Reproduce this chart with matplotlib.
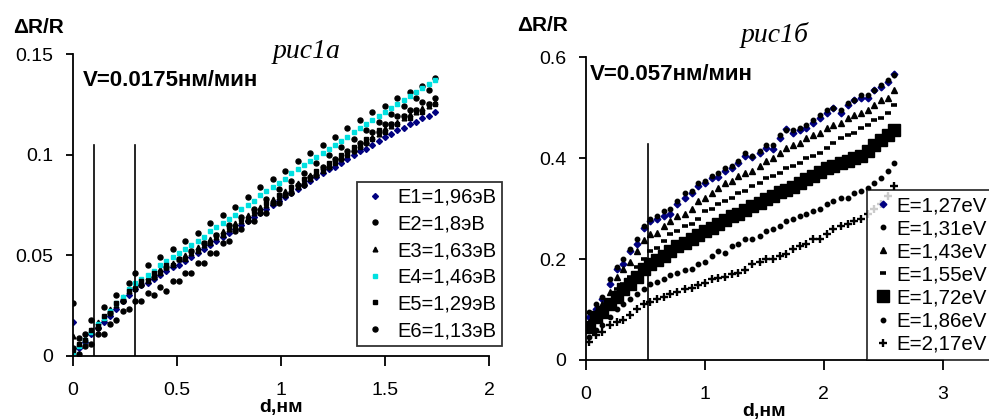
import matplotlib
matplotlib.use("Agg")
import matplotlib.pyplot as plt

plt.rcParams["font.family"] = ["Liberation Sans", "DejaVu Sans"]

# ---- рис1а: V=0.0175 нм/мин ----
d_a = [0.00, 0.03, 0.06, 0.09, 0.12, 0.15, 0.18, 0.21, 0.24, 0.27,
       0.30, 0.33, 0.36, 0.39, 0.42, 0.45, 0.48, 0.51, 0.54, 0.57,
       0.60, 0.63, 0.66, 0.69, 0.72, 0.75, 0.78, 0.81, 0.84, 0.87,
       0.90, 0.93, 0.96, 0.99, 1.02, 1.05, 1.08, 1.11, 1.14, 1.17,
       1.20, 1.23, 1.26, 1.29, 1.32, 1.35, 1.38, 1.41, 1.44, 1.47,
       1.50, 1.53, 1.56, 1.59, 1.62, 1.65, 1.68, 1.71, 1.74]

e1_a = [0.017, 0.004, 0.007, 0.011, 0.014, 0.017, 0.020, 0.023, 0.027, 0.030,
        0.033, 0.035, 0.036, 0.038, 0.040, 0.042, 0.044, 0.045, 0.047, 0.049,
        0.051, 0.053, 0.055, 0.057, 0.059, 0.061, 0.063, 0.065, 0.067, 0.069,
        0.071, 0.073, 0.075, 0.077, 0.079, 0.081, 0.083, 0.085, 0.087, 0.089,
        0.091, 0.093, 0.094, 0.096, 0.098, 0.100, 0.102, 0.103, 0.105, 0.107,
        0.109, 0.110, 0.112, 0.113, 0.115, 0.116, 0.118, 0.119, 0.121]
e2_a = [0.004, 0.009, 0.011, 0.018, 0.014, 0.024, 0.021, 0.030, 0.027, 0.036,
        0.041, 0.035, 0.045, 0.039, 0.049, 0.044, 0.053, 0.048, 0.057, 0.052,
        0.061, 0.056, 0.066, 0.060, 0.070, 0.065, 0.074, 0.069, 0.079, 0.073,
        0.084, 0.078, 0.088, 0.083, 0.092, 0.087, 0.097, 0.091, 0.101, 0.096,
        0.105, 0.100, 0.109, 0.104, 0.113, 0.108, 0.117, 0.112, 0.121, 0.116,
        0.124, 0.120, 0.128, 0.124, 0.131, 0.128, 0.134, 0.132, 0.138]
e3_a = [0.010, 0.006, 0.009, 0.013, 0.017, 0.019, 0.023, 0.025, 0.029, 0.032,
        0.035, 0.037, 0.039, 0.040, 0.043, 0.044, 0.046, 0.048, 0.050, 0.051,
        0.054, 0.055, 0.058, 0.059, 0.062, 0.063, 0.066, 0.067, 0.070, 0.071,
        0.074, 0.075, 0.078, 0.079, 0.082, 0.083, 0.086, 0.087, 0.090, 0.091,
        0.094, 0.095, 0.098, 0.099, 0.101, 0.103, 0.105, 0.107, 0.109, 0.110,
        0.113, 0.114, 0.116, 0.118, 0.120, 0.121, 0.123, 0.124, 0.126]
e4_a = [0.002, 0.005, 0.008, 0.012, 0.016, 0.019, 0.022, 0.026, 0.029, 0.033,
        0.036, 0.038, 0.040, 0.042, 0.045, 0.047, 0.049, 0.051, 0.053, 0.055,
        0.057, 0.059, 0.062, 0.064, 0.066, 0.068, 0.070, 0.073, 0.075, 0.077,
        0.080, 0.082, 0.084, 0.086, 0.088, 0.091, 0.093, 0.095, 0.097, 0.099,
        0.101, 0.103, 0.105, 0.107, 0.109, 0.111, 0.113, 0.115, 0.117, 0.119,
        0.121, 0.123, 0.125, 0.127, 0.129, 0.131, 0.133, 0.135, 0.137]
e5_a = [0.003, 0.006, 0.008, 0.013, 0.015, 0.020, 0.021, 0.026, 0.027, 0.032,
        0.033, 0.037, 0.037, 0.041, 0.041, 0.045, 0.045, 0.048, 0.048, 0.052,
        0.052, 0.056, 0.056, 0.060, 0.060, 0.064, 0.064, 0.068, 0.068, 0.072,
        0.072, 0.076, 0.076, 0.080, 0.080, 0.084, 0.084, 0.088, 0.088, 0.092,
        0.092, 0.096, 0.096, 0.100, 0.100, 0.104, 0.104, 0.108, 0.108, 0.112,
        0.111, 0.115, 0.115, 0.119, 0.118, 0.122, 0.121, 0.125, 0.125]
e6_a = [0.026, 0.001, 0.005, 0.006, 0.011, 0.011, 0.016, 0.018, 0.022, 0.023,
        0.027, 0.027, 0.031, 0.030, 0.034, 0.032, 0.037, 0.037, 0.041, 0.041,
        0.046, 0.046, 0.051, 0.051, 0.056, 0.057, 0.062, 0.063, 0.067, 0.067,
        0.071, 0.071, 0.076, 0.076, 0.080, 0.081, 0.085, 0.085, 0.089, 0.090,
        0.094, 0.094, 0.098, 0.098, 0.102, 0.102, 0.106, 0.106, 0.111, 0.111,
        0.115, 0.115, 0.119, 0.119, 0.122, 0.122, 0.126, 0.125, 0.128]

labels_a = ["E1=1,96эВ", "E2=1,8эВ", "E3=1,63эВ", "E4=1,46эВ", "E5=1,29эВ", "E6=1,13эВ"]
vlines_a = [0.1, 0.3]

# ---- рис1б: V=0.057 нм/мин ----
d_b = [0.03, 0.09, 0.14, 0.20, 0.26, 0.31, 0.37, 0.43, 0.49, 0.54,
       0.60, 0.66, 0.71, 0.77, 0.83, 0.89, 0.94, 1.00, 1.06, 1.11,
       1.17, 1.23, 1.28, 1.34, 1.40, 1.46, 1.51, 1.57, 1.63, 1.68,
       1.74, 1.80, 1.85, 1.91, 1.97, 2.03, 2.08, 2.14, 2.20, 2.25,
       2.31, 2.37, 2.42, 2.48, 2.54, 2.59]

e127_b = [0.085, 0.100, 0.120, 0.150, 0.180, 0.190, 0.215, 0.230, 0.262, 0.275,
          0.280, 0.285, 0.290, 0.310, 0.320, 0.330, 0.345, 0.350, 0.360, 0.362,
          0.375, 0.380, 0.390, 0.405, 0.402, 0.410, 0.420, 0.418, 0.440, 0.458,
          0.450, 0.455, 0.460, 0.470, 0.480, 0.490, 0.500, 0.490, 0.505, 0.515,
          0.520, 0.520, 0.535, 0.540, 0.550, 0.567]
e131_b = [0.095, 0.110, 0.125, 0.160, 0.185, 0.200, 0.220, 0.240, 0.265, 0.280,
          0.285, 0.295, 0.300, 0.315, 0.330, 0.335, 0.350, 0.355, 0.365, 0.370,
          0.380, 0.385, 0.395, 0.410, 0.405, 0.415, 0.425, 0.425, 0.445, 0.455,
          0.455, 0.460, 0.465, 0.475, 0.485, 0.495, 0.500, 0.495, 0.510, 0.515,
          0.525, 0.525, 0.535, 0.545, 0.555, 0.565]
e143_b = [0.075, 0.095, 0.110, 0.135, 0.165, 0.180, 0.195, 0.215, 0.238, 0.250,
          0.252, 0.265, 0.275, 0.285, 0.290, 0.300, 0.315, 0.320, 0.330, 0.340,
          0.350, 0.355, 0.365, 0.370, 0.375, 0.385, 0.395, 0.400, 0.410, 0.420,
          0.425, 0.430, 0.440, 0.445, 0.450, 0.460, 0.465, 0.470, 0.480, 0.485,
          0.490, 0.495, 0.505, 0.515, 0.520, 0.535]
e155_b = [0.070, 0.085, 0.100, 0.115, 0.140, 0.150, 0.165, 0.185, 0.200, 0.215,
          0.222, 0.235, 0.250, 0.255, 0.265, 0.270, 0.280, 0.295, 0.300, 0.310,
          0.315, 0.320, 0.330, 0.335, 0.345, 0.350, 0.360, 0.365, 0.370, 0.380,
          0.385, 0.390, 0.400, 0.405, 0.410, 0.420, 0.430, 0.440, 0.445, 0.450,
          0.460, 0.465, 0.475, 0.480, 0.490, 0.505]
e172_b = [0.065, 0.085, 0.095, 0.110, 0.125, 0.140, 0.150, 0.165, 0.180, 0.190,
          0.198, 0.205, 0.215, 0.225, 0.232, 0.240, 0.248, 0.255, 0.262, 0.270,
          0.278, 0.285, 0.290, 0.298, 0.305, 0.312, 0.318, 0.325, 0.332, 0.337,
          0.342, 0.350, 0.358, 0.365, 0.372, 0.380, 0.385, 0.390, 0.395, 0.400,
          0.405, 0.415, 0.425, 0.435, 0.445, 0.455]
e186_b = [0.045, 0.060, 0.070, 0.085, 0.100, 0.110, 0.120, 0.130, 0.140, 0.150,
          0.155, 0.160, 0.168, 0.172, 0.178, 0.180, 0.190, 0.195, 0.205, 0.215,
          0.212, 0.225, 0.230, 0.240, 0.240, 0.245, 0.255, 0.260, 0.265, 0.275,
          0.280, 0.285, 0.290, 0.295, 0.300, 0.310, 0.315, 0.320, 0.320, 0.330,
          0.335, 0.340, 0.350, 0.360, 0.375, 0.390]
e217_b = [0.035, 0.050, 0.055, 0.070, 0.075, 0.080, 0.090, 0.100, 0.110, 0.115,
          0.120, 0.125, 0.130, 0.135, 0.140, 0.142, 0.148, 0.152, 0.160, 0.162,
          0.165, 0.170, 0.172, 0.178, 0.190, 0.195, 0.200, 0.200, 0.205, 0.210,
          0.220, 0.225, 0.230, 0.240, 0.240, 0.250, 0.260, 0.265, 0.270, 0.275,
          0.280, 0.290, 0.300, 0.310, 0.325, 0.345]

labels_b = ["E=1,27eV", "E=1,31eV", "E=1,43eV", "E=1,55eV", "E=1,72eV", "E=1,86eV", "E=2,17eV"]
vlines_b = [0.52]

fig = plt.figure(figsize=(9.89, 4.19), dpi=100)
ax1 = fig.add_axes([0.0735, 0.151, 0.421, 0.720])
ax2 = fig.add_axes([0.5922, 0.141, 0.3613, 0.7225])

# left panel
ax1.plot(d_a, e1_a, "D", color="#000080", ms=3.0, label=labels_a[0])
ax1.plot(d_a, e2_a, "o", color="black", ms=3.6, label=labels_a[1])
ax1.plot(d_a, e3_a, "^", color="black", ms=3.4, label=labels_a[2])
ax1.plot(d_a, e4_a, "s", color="#00e0e0", ms=2.6, label=labels_a[3])
ax1.plot(d_a, e5_a, "s", color="black", ms=2.6, label=labels_a[4])
ax1.plot(d_a, e6_a, "o", color="black", ms=3.6, label=labels_a[5])
for x in vlines_a:
    ax1.plot([x, x], [0, 0.105], color="black", lw=1.2)
ax1.set_xlim(0, 2)
ax1.set_ylim(0, 0.15)
ax1.set_xticks([0, 0.5, 1, 1.5, 2])
ax1.set_xticklabels(["0", "0.5", "1", "1.5", "2"])
ax1.set_yticks([0, 0.05, 0.1, 0.15])
ax1.set_yticklabels(["0", "0.05", "0.1", "0.15"])

# right panel
ax2.plot(d_b, e127_b, "D", color="#000080", ms=3.4, label=labels_b[0])
ax2.plot(d_b, e131_b, "o", color="black", ms=3.2, label=labels_b[1])
ax2.plot(d_b, e143_b, "^", color="black", ms=4.4, label=labels_b[2])
ax2.plot(d_b, e155_b, "_", color="black", ms=3.8, mew=2.6, label=labels_b[3])
ax2.plot(d_b, e172_b, "s", color="black", ms=8.5, label=labels_b[4])
ax2.plot(d_b, e186_b, "o", color="black", ms=3.2, label=labels_b[5])
ax2.plot(d_b, e217_b, "+", color="black", ms=5.5, mew=1.7, label=labels_b[6])
for x in vlines_b:
    ax2.plot([x, x], [0, 0.427], color="black", lw=1.2)
ax2.set_xlim(0, 3)
ax2.set_ylim(0, 0.6)
ax2.set_xticks([0, 1, 2, 3])
ax2.set_yticks([0, 0.2, 0.4, 0.6])
ax2.set_yticklabels(["0", "0.2", "0.4", "0.6"])

for ax in (ax1, ax2):
    ax.spines["top"].set_visible(False)
    ax.spines["right"].set_visible(False)
    ax.spines["left"].set_linewidth(1.3)
    ax.spines["bottom"].set_linewidth(1.3)
    ax.tick_params(direction="out", width=1.3, labelsize=14)
    ax.tick_params(axis="x", length=7, pad=12)
    ax.tick_params(axis="y", length=5, pad=9)
    ax.set_xlabel("d,нм", fontsize=14, fontweight="bold", labelpad=0)

leg_kw = dict(frameon=True, fancybox=False, edgecolor="black", borderpad=0.3,
              borderaxespad=0, bbox_transform=fig.transFigure, loc="upper left")
leg1 = ax1.legend(fontsize=14.5, labelspacing=0.38, handlelength=1.2, handletextpad=0.5,
                  bbox_to_anchor=(0.361, 0.566), **leg_kw)
leg2 = ax2.legend(fontsize=14.8, labelspacing=0.2, handlelength=1.0, handletextpad=0.15,
                  bbox_to_anchor=(0.8766, 0.5465), **leg_kw)
for leg in (leg1, leg2):
    leg.get_frame().set_linewidth(1.3)

fig.text(0.013, 0.935, "ΔR/R", fontsize=15, fontweight="bold", va="center")
fig.text(0.523, 0.940, "ΔR/R", fontsize=15, fontweight="bold", va="center")
fig.text(0.084, 0.809, "V=0.0175нм/мин", fontsize=16, fontweight="bold", va="center")
fig.text(0.596, 0.823, "V=0.057нм/мин", fontsize=16, fontweight="bold", va="center")
fig.text(0.31, 0.876, "рис1а", fontsize=20, style="italic", family="Liberation Serif",
         ha="center", va="center")
fig.text(0.783, 0.916, "рис1б", fontsize=20, style="italic", family="Liberation Serif",
         ha="center", va="center")

fig.savefig("out.png", dpi=100)
